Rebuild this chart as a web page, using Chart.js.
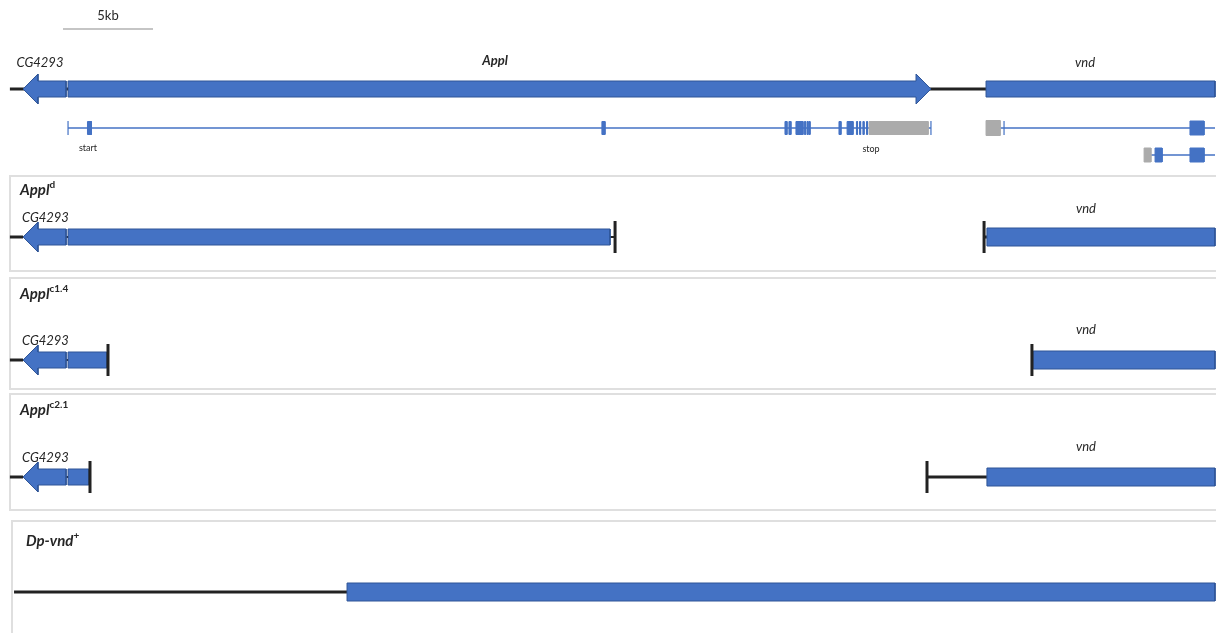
<!DOCTYPE html>
<html>
<head>
<meta charset="utf-8">
<script src="https://cdn.jsdelivr.net/npm/chart.js@4.4.1/dist/chart.umd.min.js"></script>
<style>
html, body { margin: 0; padding: 0; background: #fff; overflow: hidden; }
#wrap { width: 1216px; height: 633px; }
</style>
</head>
<body>
<div id="wrap"><canvas id="myChart"></canvas></div>
<script>
// 座標はすべて kb
var scaleBar = [3.0, 8.0];
var flankLeft = 0.05;
var cgArrow = [0.78, 1.61, 3.17];        // 先端, 矢じり根元, 終端
var applGene = [3.28, 50.39, 51.22];     // 開始, 矢じり根元, 先端
var vndGene = [54.28, 67.0];

// Appl 転写産物
var applIntron = [3.28, 51.22];
var applExons = [[4.36, 4.58], [32.94, 33.11], [43.11, 43.22], [43.33, 43.44], [43.72, 44.11],
                 [44.19, 44.25], [44.33, 44.39], [44.44, 44.5], [46.11, 46.22], [46.56, 46.89],
                 [47.08, 47.14], [47.25, 47.31], [47.44, 47.5], [47.64, 47.69]];
var applUtr = [[47.78, 51.06]];

// vnd 転写産物
var vndTx1Intron = [55.06, 67.0];
var vndTx1Exons = [[65.61, 66.39]];
var vndTx1Utr = [[54.28, 55.06]];
var vndTx1Tick = 55.28;
var vndTx2Intron = [63.44, 67.0];
var vndTx2Exons = [[63.67, 64.06], [65.61, 66.39]];
var vndTx2Utr = [[63.06, 63.44]];

// 欠失アレル
var alleleNames = ['d', 'c1.4', 'c2.1'];
var applBoxEnd = [33.39, 5.44, 4.44];
var applBreak = [33.67, 5.5, 4.5];
var vndBreak = [54.17, 56.83, 51.0];
var vndBoxStart = [54.33, 56.9, 54.33];

// Dp-vnd+
var dpLine = [0.28, 18.78];
var dpBox = [18.78, 67.0];

// 色
var BLUE = '#4472C4', BLUE_EDGE = '#2F5597', GRAY = '#ABABAB', BLACK = '#222222';

// レイアウト（y はピクセル単位）
var topY = 89, txY = 128, tx2Y = 155;
var rowY = [237, 360, 477];
var dpY = 592;
var bodyH = 16, headH = 30;

var datasets = [];

function poly(pts, fillColor, edge, order) {
    pts.push(pts[0]);
    datasets.push({
        data: pts, showLine: true, fill: 'shape', tension: 0,
        backgroundColor: fillColor, borderColor: edge, borderWidth: 1,
        borderJoinStyle: 'miter', borderCapStyle: 'butt',
        pointRadius: 0, order: order === undefined ? 1 : order
    });
}
function rect(a, b, y, h, fillColor, edge, order) {
    poly([{x: a, y: y - h / 2}, {x: b, y: y - h / 2}, {x: b, y: y + h / 2}, {x: a, y: y + h / 2}], fillColor, edge, order);
}
function seg(a, b, y, color, w) {
    datasets.push({
        data: [{x: a, y: y}, {x: b, y: y}], showLine: true, fill: false,
        borderColor: color, borderWidth: w, borderCapStyle: 'butt', pointRadius: 0, order: 3
    });
}
function vtick(x, y, h, color, w) {
    datasets.push({
        data: [{x: x, y: y - h / 2}, {x: x, y: y + h / 2}], showLine: true, fill: false,
        borderColor: color, borderWidth: w, borderCapStyle: 'butt', pointRadius: 0, order: 0
    });
}
function leftArrow(g, y) {
    poly([{x: g[0], y: y}, {x: g[1], y: y - headH / 2}, {x: g[1], y: y - bodyH / 2}, {x: g[2], y: y - bodyH / 2},
          {x: g[2], y: y + bodyH / 2}, {x: g[1], y: y + bodyH / 2}, {x: g[1], y: y + headH / 2}], BLUE, BLUE_EDGE);
}
function rightArrow(g, y) {
    poly([{x: g[0], y: y - bodyH / 2}, {x: g[1], y: y - bodyH / 2}, {x: g[1], y: y - headH / 2}, {x: g[2], y: y},
          {x: g[1], y: y + headH / 2}, {x: g[1], y: y + bodyH / 2}, {x: g[0], y: y + bodyH / 2}], BLUE, BLUE_EDGE);
}

// スケールバー
seg(scaleBar[0], scaleBar[1], 29, '#8C8C8C', 1.2);

// 野生型
seg(flankLeft, vndGene[0], topY, BLACK, 3);
leftArrow(cgArrow, topY);
rightArrow(applGene, topY);
rect(vndGene[0], vndGene[1], topY, bodyH, BLUE, BLUE_EDGE);

// Appl 転写産物
seg(applIntron[0], applIntron[1], txY, BLUE, 1.3);
vtick(applIntron[0], txY, 14, BLUE, 1.2);
vtick(applIntron[1], txY, 14, BLUE, 1.2);
applExons.forEach(function (e) { rect(e[0], e[1], txY, 13, BLUE, BLUE, 1); });
applUtr.forEach(function (e) { rect(e[0], e[1], txY, 13, GRAY, GRAY, 1); });

// vnd 転写産物
seg(vndTx1Intron[0], vndTx1Intron[1], txY, BLUE, 1.3);
vtick(vndTx1Tick, txY, 14, BLUE, 1.2);
vndTx1Exons.forEach(function (e) { rect(e[0], e[1], txY, 14, BLUE, BLUE, 1); });
vndTx1Utr.forEach(function (e) { rect(e[0], e[1], txY, 15, GRAY, GRAY, 1); });
seg(vndTx2Intron[0], vndTx2Intron[1], tx2Y, BLUE, 1.3);
vndTx2Exons.forEach(function (e) { rect(e[0], e[1], tx2Y, 14, BLUE, BLUE, 1); });
vndTx2Utr.forEach(function (e) { rect(e[0], e[1], tx2Y, 14, GRAY, GRAY, 1); });

// 欠失アレル
for (var i = 0; i < alleleNames.length; i++) {
    var y = rowY[i];
    seg(flankLeft, cgArrow[0], y, BLACK, 3);
    seg(cgArrow[2], applBreak[i], y, BLACK, 2);
    leftArrow(cgArrow, y);
    rect(applGene[0], applBoxEnd[i], y, bodyH, BLUE, BLUE_EDGE);
    vtick(applBreak[i], y, 32, BLACK, 3);
    seg(vndBreak[i], vndBoxStart[i], y, BLACK, 3);
    vtick(vndBreak[i], y, 32, BLACK, 3);
    rect(vndBoxStart[i], vndGene[1], y, 18, BLUE, BLUE_EDGE);
}

// Dp-vnd+
seg(dpLine[0], dpLine[1], dpY, BLACK, 3);
rect(dpBox[0], dpBox[1], dpY, 18, BLUE, BLUE_EDGE);

// テキスト
var FONT = 'Lato, "Open Sans", sans-serif';
var labels = [
    {text: '5kb', x: 5.5, y: 16, font: '13px ' + FONT, align: 'center'},
    {text: 'CG4293', x: 1.72, y: 63, font: 'italic 13px ' + FONT, align: 'center'},
    {text: 'Appl', x: 27.0, y: 61, font: 'italic bold 13px ' + FONT, align: 'center'},
    {text: 'vnd', x: 59.78, y: 63, font: 'italic 13px ' + FONT, align: 'center'},
    {text: 'start', x: 4.39, y: 148, font: '9px ' + FONT, align: 'center'},
    {text: 'stop', x: 47.89, y: 149, font: '9px ' + FONT, align: 'center'}
];
rowY.forEach(function (y) {
    labels.push({text: 'CG4293', x: 0.72, y: y - 19, font: 'italic 13px ' + FONT, align: 'left'});
});
labels.push({text: 'vnd', x: 59.83, y: 209, font: 'italic 13px ' + FONT, align: 'center'});
labels.push({text: 'vnd', x: 59.83, y: 330, font: 'italic 13px ' + FONT, align: 'center'});
labels.push({text: 'vnd', x: 59.83, y: 447, font: 'italic 13px ' + FONT, align: 'center'});

var panels = [
    {x: 10, y: 176, w: 1210, h: 95, title: 'Appl', sup: alleleNames[0], ty: 190},
    {x: 10, y: 278, w: 1210, h: 111, title: 'Appl', sup: alleleNames[1], ty: 294},
    {x: 10, y: 394, w: 1210, h: 116, title: 'Appl', sup: alleleNames[2], ty: 410},
    {x: 12, y: 521, w: 1210, h: 130, title: 'Dp-vnd', sup: '+', ty: 541, tx: 26}
];

var panelPlugin = {
    id: 'panels',
    beforeDatasetsDraw: function (chart) {
        var ctx = chart.ctx;
        ctx.save();
        ctx.strokeStyle = '#DFDFDF';
        ctx.lineWidth = 2;
        panels.forEach(function (p) { ctx.strokeRect(p.x, p.y, p.w, p.h); });
        ctx.restore();
    },
    afterDatasetsDraw: function (chart) {
        var ctx = chart.ctx, sx = chart.scales.x, sy = chart.scales.y;
        ctx.save();
        ctx.fillStyle = '#262626';
        ctx.textBaseline = 'middle';
        labels.forEach(function (l) {
            ctx.font = l.font;
            ctx.textAlign = l.align;
            ctx.fillText(l.text, sx.getPixelForValue(l.x), sy.getPixelForValue(l.y));
        });
        ctx.textAlign = 'left';
        panels.forEach(function (p) {
            var tx = p.tx || 20;
            ctx.font = 'italic bold 15px ' + FONT;
            ctx.fillText(p.title, tx, p.ty);
            var w = ctx.measureText(p.title).width;
            ctx.font = 'bold 10px ' + FONT;
            ctx.fillText(p.sup, tx + w, p.ty - 5);
        });
        ctx.restore();
    }
};

var ctx = document.getElementById('myChart').getContext('2d');
var myChart = new Chart(ctx, {
    type: 'scatter',
    data: {datasets: datasets},
    options: {
        responsive: true,
        maintainAspectRatio: false,
        animation: false,
        layout: {padding: 0},
        plugins: {legend: {display: false}, tooltip: {enabled: false}},
        scales: {
            x: {type: 'linear', min: -0.5, max: 1216 / 18 - 0.5, display: false},
            y: {type: 'linear', min: 0, max: 633, reverse: true, display: false}
        }
    },
    plugins: [panelPlugin]
});
</script>
</body>
</html>
